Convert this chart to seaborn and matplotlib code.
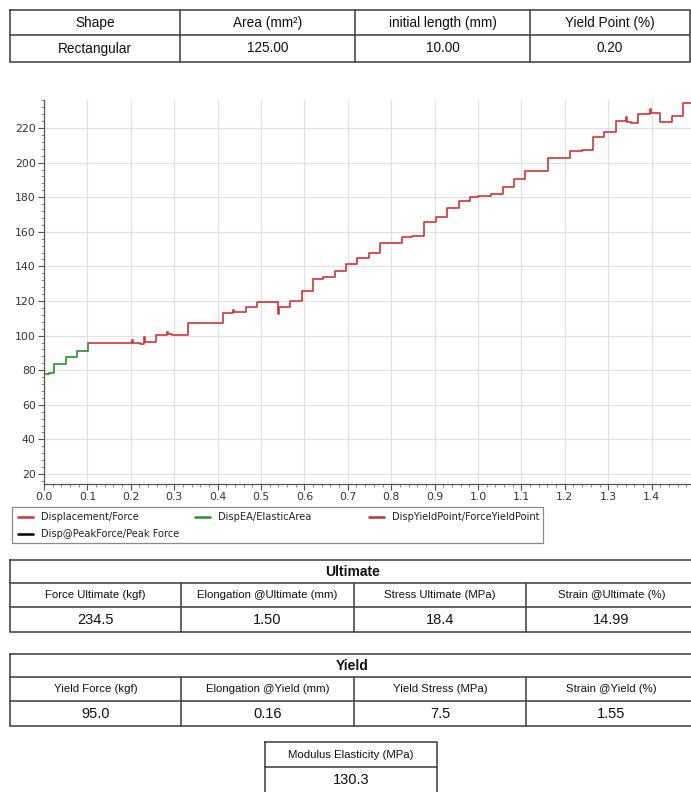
import matplotlib
matplotlib.use("Agg")
import matplotlib.pyplot as plt
from matplotlib.ticker import AutoMinorLocator
import seaborn as sns

# ---- specimen info ----
info_headers = ["Shape", "Area (mm²)", "initial length (mm)", "Yield Point (%)"]
info_values = ["Rectangular", "125.00", "10.00", "0.20"]

# ---- elastic area (step samples) ----
elastic_disp = [0.000, 0.012, 0.023, 0.050, 0.077, 0.102]
elastic_force = [77.8, 78.6, 83.5, 87.8, 91.3, 95.5]

# ---- displacement / force (step samples) ----
disp = [0.102, 0.203, 0.205, 0.221, 0.230, 0.232, 0.257, 0.283, 0.285, 0.295,
        0.332, 0.412, 0.436, 0.438, 0.465, 0.491, 0.540, 0.542, 0.566, 0.594,
        0.619, 0.643, 0.670, 0.697, 0.722, 0.748, 0.774, 0.826, 0.848, 0.876,
        0.903, 0.929, 0.956, 0.982, 1.000, 1.030, 1.058, 1.084, 1.108, 1.162,
        1.213, 1.240, 1.264, 1.291, 1.317, 1.342, 1.344, 1.352, 1.368, 1.396,
        1.398, 1.420, 1.446, 1.473, 1.500]
force = [95.5, 97.5, 95.8, 95.0, 99.0, 96.5, 100.3, 102.0, 100.8, 100.5,
         107.5, 113.0, 115.0, 113.5, 116.7, 119.6, 112.5, 116.7, 119.8, 125.8,
         132.7, 133.7, 137.5, 141.2, 144.7, 148.0, 153.3, 157.0, 157.8, 165.8,
         168.7, 174.0, 178.0, 180.0, 180.7, 181.8, 186.0, 190.3, 195.0, 202.5,
         206.9, 207.5, 215.0, 217.5, 223.8, 226.5, 223.5, 222.7, 228.0, 231.0,
         228.5, 223.6, 226.9, 234.5, 234.5]

# ---- marker series ----
yield_disp = [0.16]
yield_force = [95.0]
peak_disp = [1.50]
peak_force = [234.5]

# ---- result tables ----
ultimate_headers = ["Force Ultimate (kgf)", "Elongation @Ultimate (mm)",
                    "Stress Ultimate (MPa)", "Strain @Ultimate (%)"]
ultimate_values = ["234.5", "1.50", "18.4", "14.99"]
yield_headers = ["Yield Force (kgf)", "Elongation @Yield (mm)",
                 "Yield Stress (MPa)", "Strain @Yield (%)"]
yield_values = ["95.0", "0.16", "7.5", "1.55"]
modulus_header = "Modulus Elasticity (MPa)"
modulus_value = "130.3"

x_ticks = [0.0, 0.1, 0.2, 0.3, 0.4, 0.5, 0.6, 0.7, 0.8, 0.9, 1.0, 1.1, 1.2, 1.3, 1.4]
y_ticks = [20, 40, 60, 80, 100, 120, 140, 160, 180, 200, 220]

sns.set_theme(style="white")
plt.rcParams["font.family"] = ["DejaVu Sans"]

W, H = 691, 792
fig = plt.figure(figsize=(W / 100, H / 100), dpi=100)
fig.patch.set_facecolor("white")

# ---------------- chart ----------------
ax = fig.add_axes([44 / W, 1 - 484 / H, 1 - 44 / W, (484 - 100) / H])
RED = "#d0353a"
GREEN = "#2f8f2f"
YRED = "#b5383c"

sns.lineplot(x=disp, y=force, ax=ax, color=RED, lw=1.2, estimator=None,
             sort=False, drawstyle="steps-post", label="Displacement/Force",
             legend=False)
sns.lineplot(x=elastic_disp, y=elastic_force, ax=ax, color=GREEN, lw=1.2,
             estimator=None, sort=False, drawstyle="steps-post",
             label="DispEA/ElasticArea", legend=False)
sns.lineplot(x=yield_disp, y=yield_force, ax=ax, color=YRED, lw=1.2,
             estimator=None, label="DispYieldPoint/ForceYieldPoint", legend=False)
sns.lineplot(x=peak_disp, y=peak_force, ax=ax, color="black", lw=1.2,
             estimator=None, label="Disp@PeakForce/Peak Force", legend=False)

ax.set_xlim(0, (W - 44) / 434)
ax.set_ylim(14.2, 236.2)
ax.set_xticks(x_ticks)
ax.set_xticklabels([f"{v:.1f}" for v in x_ticks])
ax.set_yticks(y_ticks)
ax.xaxis.set_minor_locator(AutoMinorLocator(5))
ax.yaxis.set_minor_locator(AutoMinorLocator(5))
ax.grid(True, which="major", color="#e2e2e2", lw=0.9)
ax.set_axisbelow(True)
for s in ["top", "right"]:
    ax.spines[s].set_visible(False)
for s in ["left", "bottom"]:
    ax.spines[s].set_color("#555555")
    ax.spines[s].set_linewidth(0.9)
ax.tick_params(axis="both", which="major", length=4, width=0.8, color="#555555",
               labelsize=7.8, labelcolor="#333333", pad=2,
               bottom=True, left=True)
ax.tick_params(axis="both", which="minor", length=2, width=0.6, color="#777777",
               bottom=True, left=True)
ax.set_xlabel("")
ax.set_ylabel("")

# ---------------- overlay for legend and tables ----------------
tx = fig.add_axes([0, 0, 1, 1], zorder=5)
tx.set_xlim(0, W)
tx.set_ylim(H, 0)
tx.axis("off")
tx.patch.set_alpha(0)

# legend built from the plotted series
series = {l.get_label(): l.get_color() for l in ax.get_lines()}
legend_slots = [("Displacement/Force", 17, 517),
                ("DispEA/ElasticArea", 194, 517),
                ("DispYieldPoint/ForceYieldPoint", 368, 517),
                ("Disp@PeakForce/Peak Force", 17, 534)]
tx.add_patch(plt.Rectangle((12, 507), 531, 36, fill=False, ec="#8a8a8a",
                           lw=0.9))
for name, lx, ly in legend_slots:
    tx.plot([lx, lx + 17], [ly, ly], color=series[name], lw=1.8,
            solid_capstyle="butt")
    tx.text(lx + 24, ly, name, ha="left", va="center", fontsize=7.1,
            color="#222222")

LC = "#3a3a3a"
LW = 1.1
TXT = "#111111"
FONT = "Liberation Sans"


def box(x0, y0, x1, y1):
    tx.plot([x0, x1, x1, x0, x0], [y0, y0, y1, y1, y0], color=LC, lw=LW,
            solid_joinstyle="miter", clip_on=False)


def hline(x0, x1, y):
    tx.plot([x0, x1], [y, y], color=LC, lw=LW)


def vline(x, y0, y1):
    tx.plot([x, x], [y0, y1], color=LC, lw=LW)


def label(x, y, s, size, weight="normal"):
    tx.text(x, y, s, ha="center", va="center", fontsize=size, color=TXT,
            family=FONT, fontweight=weight)


cols = [10, 181, 354, 526, 697]
centers = [(cols[i] + cols[i + 1]) / 2 for i in range(4)]

# specimen table
tcols = [10, 180, 355, 530, 690]
box(10, 10, 690, 62)
hline(10, 690, 35)
for c in tcols[1:-1]:
    vline(c, 10, 62)
for i in range(4):
    cx = (tcols[i] + tcols[i + 1]) / 2
    label(cx, 22.5, info_headers[i], 9.8)
    label(cx, 48.5, info_values[i], 9.8)


def result_table(top, title, headers, values):
    box(10, top, 697, top + 72)
    hline(10, 697, top + 23)
    hline(10, 697, top + 47)
    for c in cols[1:-1]:
        vline(c, top + 23, top + 72)
    label((10 + 697) / 2 - 1, top + 11.5, title, 10, "bold")
    for i in range(4):
        label(centers[i], top + 35, headers[i], 8.2)
        label(centers[i], top + 59.5, values[i], 10.5)


result_table(560, "Ultimate", ultimate_headers, ultimate_values)
result_table(654, "Yield", yield_headers, yield_values)

# modulus table
box(265, 742, 437, 796)
hline(265, 437, 767)
label(351, 754.5, modulus_header, 8.2)
label(351, 780.5, modulus_value, 10.5)

fig.savefig("out.png", dpi=100, facecolor="white")
